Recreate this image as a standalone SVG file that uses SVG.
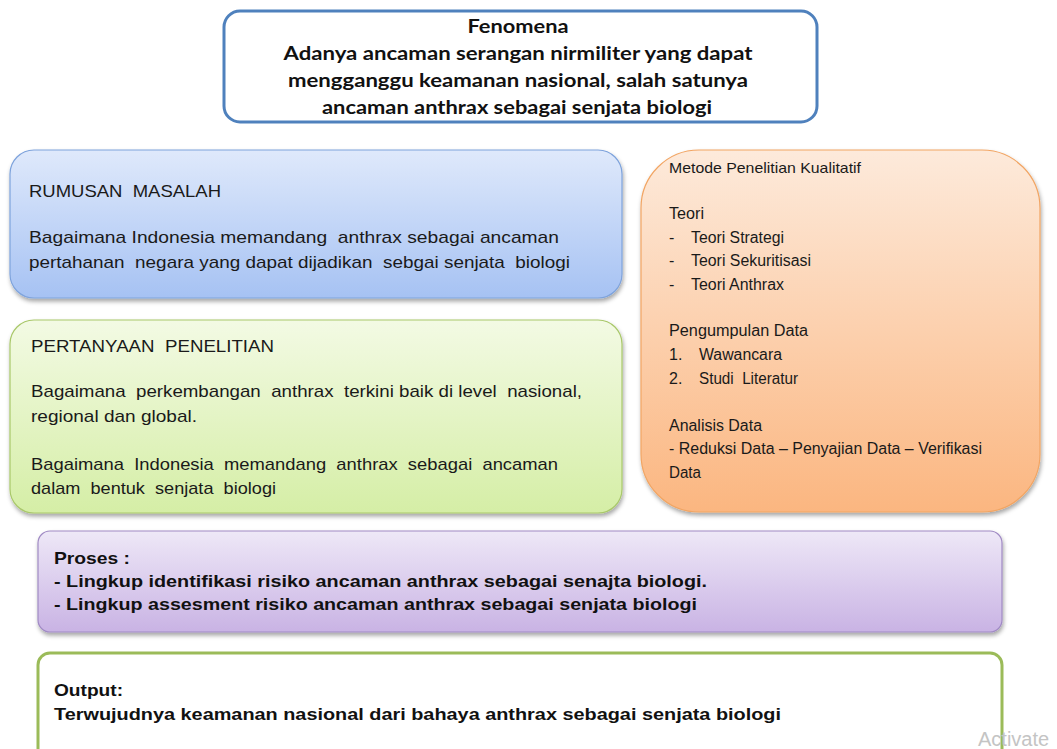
<svg xmlns="http://www.w3.org/2000/svg" width="1057" height="749" viewBox="0 0 1057 749">
<defs>
<style>
.t{font-family:"Liberation Sans",Arial,sans-serif;font-size:17px;fill:#1a1a1a}
.o{font-family:"Liberation Sans",Arial,sans-serif;font-size:16px;fill:#1a1a1a}
.b{font-family:"Liberation Sans",Arial,sans-serif;font-size:17px;font-weight:bold;fill:#111}
.f{font-family:Lato,"Open Sans",sans-serif;font-size:19px;font-weight:bold;fill:#111;text-anchor:middle}
</style>
<linearGradient id="gBlue" x1="0" y1="0" x2="0" y2="1"><stop offset="0" stop-color="#dfe9fb"/><stop offset="1" stop-color="#a6c2f3"/></linearGradient>
<linearGradient id="gGreen" x1="0" y1="0" x2="0" y2="1"><stop offset="0" stop-color="#f3fae4"/><stop offset="1" stop-color="#d5eea6"/></linearGradient>
<linearGradient id="gOrange" x1="0" y1="0" x2="0" y2="1"><stop offset="0" stop-color="#fdeadb"/><stop offset="1" stop-color="#fbb680"/></linearGradient>
<linearGradient id="gPurple" x1="0" y1="0" x2="0" y2="1"><stop offset="0" stop-color="#eee8f7"/><stop offset="1" stop-color="#c9b3e4"/></linearGradient>
<filter id="sh" x="-5%" y="-10%" width="110%" height="125%"><feDropShadow dx="1" dy="3" stdDeviation="2" flood-color="#000" flood-opacity="0.35"/></filter>
</defs>
<rect width="1057" height="749" fill="#ffffff"/>
<g id="connectors"></g>

<g id="fenomena">
<rect x="224" y="11" width="593" height="111" rx="16" fill="#ffffff" stroke="#4f81bd" stroke-width="3"/>
<text class="f" x="518" y="33" textLength="101" lengthAdjust="spacingAndGlyphs">Fenomena</text>
<text class="f" x="518" y="60" textLength="469" lengthAdjust="spacingAndGlyphs">Adanya ancaman serangan nirmiliter yang dapat</text>
<text class="f" x="518" y="87" textLength="460" lengthAdjust="spacingAndGlyphs">mengganggu keamanan nasional, salah satunya</text>
<text class="f" x="517" y="114" textLength="390" lengthAdjust="spacingAndGlyphs">ancaman anthrax sebagai senjata biologi</text>
</g>

<g id="rumusan">
<rect x="10" y="150" width="612" height="148" rx="24" fill="url(#gBlue)" stroke="#7ea3dc" stroke-width="1.2" filter="url(#sh)"/>
<text class="t" x="29" y="197" textLength="192" lengthAdjust="spacingAndGlyphs" xml:space="preserve">RUMUSAN  MASALAH</text>
<text class="t" x="29" y="243" textLength="530" lengthAdjust="spacingAndGlyphs" xml:space="preserve">Bagaimana Indonesia memandang  anthrax sebagai ancaman</text>
<text class="t" x="29" y="268" textLength="541" lengthAdjust="spacingAndGlyphs" xml:space="preserve">pertahanan  negara yang dapat dijadikan  sebgai senjata  biologi</text>
</g>

<g id="pertanyaan">
<rect x="10" y="320" width="612" height="193" rx="24" fill="url(#gGreen)" stroke="#a9c86a" stroke-width="1.2" filter="url(#sh)"/>
<text class="t" x="31" y="352" textLength="243" lengthAdjust="spacingAndGlyphs" xml:space="preserve">PERTANYAAN  PENELITIAN</text>
<text class="t" x="31" y="397" textLength="551" lengthAdjust="spacingAndGlyphs" xml:space="preserve">Bagaimana  perkembangan  anthrax  terkini baik di level  nasional,</text>
<text class="t" x="31" y="422" textLength="166" lengthAdjust="spacingAndGlyphs">regional dan global.</text>
<text class="t" x="31" y="470" textLength="527" lengthAdjust="spacingAndGlyphs" xml:space="preserve">Bagaimana  Indonesia  memandang  anthrax  sebagai  ancaman</text>
<text class="t" x="31" y="494" textLength="245" lengthAdjust="spacingAndGlyphs" xml:space="preserve">dalam  bentuk  senjata  biologi</text>
</g>

<g id="metode">
<rect x="641" y="150" width="399" height="362" rx="58" fill="url(#gOrange)" stroke="#f2a563" stroke-width="1.2" filter="url(#sh)"/>
<text class="o" x="669" y="173" textLength="192" lengthAdjust="spacingAndGlyphs" style="font-size:15px">Metode Penelitian Kualitatif</text>
<text class="o" x="669" y="219" textLength="35" lengthAdjust="spacingAndGlyphs">Teori</text>
<text class="o" x="669" y="243">-</text><text class="o" x="691" y="243" textLength="93" lengthAdjust="spacingAndGlyphs">Teori Strategi</text>
<text class="o" x="669" y="266">-</text><text class="o" x="691" y="266" textLength="120" lengthAdjust="spacingAndGlyphs">Teori Sekuritisasi</text>
<text class="o" x="669" y="290">-</text><text class="o" x="691" y="290" textLength="93" lengthAdjust="spacingAndGlyphs">Teori Anthrax</text>
<text class="o" x="669" y="336" textLength="139" lengthAdjust="spacingAndGlyphs">Pengumpulan Data</text>
<text class="o" x="669" y="360">1.</text><text class="o" x="699" y="360" textLength="83" lengthAdjust="spacingAndGlyphs">Wawancara</text>
<text class="o" x="669" y="384">2.</text><text class="o" x="699" y="384" textLength="99" lengthAdjust="spacingAndGlyphs" xml:space="preserve">Studi  Literatur</text>
<text class="o" x="669" y="431" textLength="93" lengthAdjust="spacingAndGlyphs">Analisis Data</text>
<text class="o" x="669" y="454" textLength="313" lengthAdjust="spacingAndGlyphs">- Reduksi Data – Penyajian Data – Verifikasi</text>
<text class="o" x="669" y="478" textLength="32" lengthAdjust="spacingAndGlyphs">Data</text>
</g>

<g id="proses">
<rect x="38" y="531" width="964" height="101" rx="12" fill="url(#gPurple)" stroke="#a08ac4" stroke-width="1.2" filter="url(#sh)"/>
<text class="b" x="54" y="564" textLength="76" lengthAdjust="spacingAndGlyphs">Proses :</text>
<text class="b" x="54" y="587" textLength="653" lengthAdjust="spacingAndGlyphs">- Lingkup identifikasi risiko ancaman anthrax sebagai senajta biologi.</text>
<text class="b" x="54" y="610" textLength="643" lengthAdjust="spacingAndGlyphs">- Lingkup assesment risiko ancaman anthrax sebagai senjata biologi</text>
</g>

<g id="output">
<rect x="38" y="653" width="964" height="110" rx="12" fill="#ffffff" stroke="#9bbb59" stroke-width="3"/>
<text class="b" x="54" y="696" textLength="69" lengthAdjust="spacingAndGlyphs">Output:</text>
<text class="b" x="54" y="720" textLength="727" lengthAdjust="spacingAndGlyphs">Terwujudnya keamanan nasional dari bahaya anthrax sebagai senjata biologi</text>
</g>

<text x="978" y="746" style="font-family:'Liberation Sans',Arial,sans-serif;font-size:20px;fill:#c4c4c4">Activate</text>
</svg>
